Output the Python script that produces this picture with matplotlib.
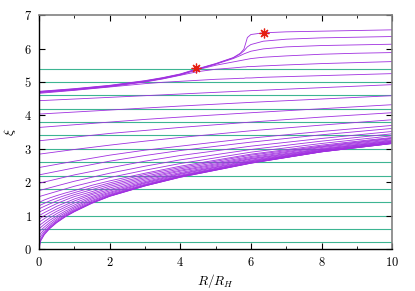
import matplotlib
matplotlib.use('Agg')
import matplotlib.pyplot as plt
from matplotlib.ticker import MultipleLocator, FuncFormatter

plt.rcParams['mathtext.fontset'] = 'cm'

# horizontal reference levels
XI_LEVELS = [0.2, 0.6, 1.0, 1.4, 1.8, 2.2, 2.6, 3.0, 3.4, 3.8, 4.2, 4.6, 5.0, 5.4]

# lower family (steep start near R=0)
R_LOW = [0, 0.05, 0.15, 0.3, 0.5, 0.75, 1, 1.5, 2, 3, 4, 6, 8, 10]
XI_LOW = [
    [0.00, 0.25, 0.43, 0.61, 0.79, 0.97, 1.12, 1.37, 1.58, 1.89, 2.15, 2.57, 2.91, 3.16],
    [0.10, 0.27, 0.45, 0.62, 0.80, 0.98, 1.12, 1.38, 1.58, 1.89, 2.15, 2.57, 2.91, 3.16],
    [0.20, 0.32, 0.48, 0.65, 0.82, 0.99, 1.14, 1.39, 1.59, 1.90, 2.16, 2.58, 2.91, 3.16],
    [0.30, 0.39, 0.53, 0.68, 0.85, 1.02, 1.16, 1.40, 1.60, 1.91, 2.17, 2.58, 2.92, 3.17],
    [0.40, 0.47, 0.59, 0.73, 0.89, 1.05, 1.19, 1.43, 1.62, 1.92, 2.18, 2.59, 2.93, 3.17],
    [0.50, 0.56, 0.66, 0.79, 0.94, 1.09, 1.23, 1.46, 1.64, 1.94, 2.19, 2.61, 2.94, 3.18],
    [0.60, 0.65, 0.74, 0.86, 0.99, 1.14, 1.27, 1.50, 1.67, 1.97, 2.21, 2.62, 2.95, 3.19],
    [0.70, 0.74, 0.82, 0.93, 1.06, 1.20, 1.32, 1.54, 1.70, 1.99, 2.24, 2.64, 2.96, 3.20],
    [0.80, 0.84, 0.91, 1.01, 1.13, 1.26, 1.38, 1.58, 1.74, 2.02, 2.26, 2.66, 2.98, 3.22],
    [0.90, 0.93, 1.00, 1.09, 1.20, 1.32, 1.44, 1.63, 1.78, 2.06, 2.29, 2.69, 2.99, 3.23],
    [1.00, 1.03, 1.09, 1.17, 1.28, 1.39, 1.50, 1.67, 1.83, 2.10, 2.33, 2.71, 3.01, 3.25],
    [1.10, 1.13, 1.18, 1.26, 1.36, 1.47, 1.57, 1.72, 1.88, 2.14, 2.36, 2.74, 3.04, 3.27],
    [1.20, 1.23, 1.28, 1.35, 1.44, 1.54, 1.63, 1.78, 1.93, 2.18, 2.40, 2.77, 3.06, 3.30],
    [1.30, 1.32, 1.37, 1.44, 1.52, 1.61, 1.69, 1.84, 1.98, 2.23, 2.44, 2.81, 3.08, 3.32],
    [1.40, 1.42, 1.47, 1.53, 1.60, 1.68, 1.75, 1.91, 2.04, 2.27, 2.48, 2.84, 3.11, 3.34],
]

# middle family
R_MID = [0, 1, 2, 3, 4, 6, 8, 10]
XI_MID = [
    [1.57, 1.88, 2.14, 2.36, 2.56, 2.90, 3.16, 3.39],
    [1.75, 2.03, 2.27, 2.48, 2.67, 2.98, 3.23, 3.45],
    [1.97, 2.22, 2.43, 2.63, 2.80, 3.08, 3.31, 3.52],
    [2.22, 2.43, 2.63, 2.80, 2.95, 3.20, 3.42, 3.61],
    [2.44, 2.63, 2.81, 2.96, 3.08, 3.32, 3.52, 3.70],
    [2.84, 2.98, 3.11, 3.23, 3.34, 3.54, 3.71, 3.87],
    [3.24, 3.35, 3.46, 3.55, 3.64, 3.80, 3.95, 4.08],
    [3.64, 3.72, 3.80, 3.88, 3.95, 4.08, 4.20, 4.32],
    [4.04, 4.10, 4.16, 4.22, 4.28, 4.39, 4.49, 4.59],
    [4.44, 4.49, 4.54, 4.59, 4.64, 4.74, 4.83, 4.92],
]

# upper bundle that splits near R/R_H ~ 4-6
R_TOP = [0, 1, 2, 3, 3.5, 4, 4.5, 5, 5.5, 5.7, 5.8, 5.85, 5.9, 6, 6.35, 7, 8, 9, 10]
XI_TOP = [
    [4.72, 4.80, 4.90, 5.04, 5.13, 5.24, 5.40, 5.55, 5.73, 5.86, 5.98, 6.15, 6.33, 6.42, 6.47, 6.50, 6.52, 6.54, 6.56],
    [4.71, 4.79, 4.89, 5.03, 5.12, 5.23, 5.39, 5.54, 5.72, 5.84, 5.93, 5.99, 6.05, 6.12, 6.22, 6.28, 6.32, 6.34, 6.36],
    [4.70, 4.78, 4.88, 5.02, 5.11, 5.22, 5.38, 5.53, 5.70, 5.79, 5.84, 5.86, 5.88, 5.92, 5.99, 6.05, 6.09, 6.11, 6.13],
    [4.69, 4.77, 4.87, 5.01, 5.10, 5.21, 5.37, 5.50, 5.60, 5.64, 5.66, 5.67, 5.68, 5.70, 5.74, 5.78, 5.83, 5.86, 5.88],
    [4.68, 4.76, 4.86, 5.00, 5.09, 5.20, 5.31, 5.38, 5.42, 5.44, 5.45, 5.45, 5.46, 5.46, 5.48, 5.51, 5.55, 5.58, 5.61],
    [4.66, 4.75, 4.85, 4.95, 4.99, 5.02, 5.05, 5.08, 5.10, 5.11, 5.11, 5.12, 5.12, 5.12, 5.14, 5.16, 5.19, 5.22, 5.25],
]

# marked points
STAR_R = [4.45, 6.37]
STAR_XI = [5.41, 6.48]

PURPLE = '#a030e0'
GREEN = '#3db592'
RED = '#e51e10'

fig = plt.figure(figsize=(4.15, 2.91), dpi=100)
ax = fig.add_axes([0.094, 0.144, 0.851, 0.804])

for lvl in XI_LEVELS:
    ax.axhline(lvl, color=GREEN, lw=0.8, zorder=1)

for xi in XI_LOW:
    ax.plot(R_LOW, xi, color=PURPLE, lw=0.6, zorder=2)
for xi in XI_MID:
    ax.plot(R_MID, xi, color=PURPLE, lw=0.6, zorder=2)
for xi in XI_TOP:
    ax.plot(R_TOP, xi, color=PURPLE, lw=0.6, zorder=2)

ax.plot(STAR_R, STAR_XI, ls='none', marker=(8, 2, 0), ms=7, mew=0.9,
        color=RED, zorder=3)

ax.set_xlim(0, 10)
ax.set_ylim(0, 7)
ax.xaxis.set_major_locator(MultipleLocator(2))
ax.xaxis.set_minor_locator(MultipleLocator(1))
ax.yaxis.set_major_locator(MultipleLocator(1))
fmt = FuncFormatter(lambda v, p: f'${v:g}$')
ax.xaxis.set_major_formatter(fmt)
ax.yaxis.set_major_formatter(fmt)
ax.tick_params(which='both', direction='in', top=True, right=True, labelsize=9)
ax.tick_params(which='major', length=4, width=0.8, pad=5)
ax.tick_params(which='minor', length=2, width=0.6)

for side in ['left', 'bottom']:
    ax.spines[side].set_color('black')
    ax.spines[side].set_linewidth(1.0)
for side in ['top', 'right']:
    ax.spines[side].set_color('#808080')
    ax.spines[side].set_linewidth(1.2)

ax.set_xlabel(r'$R/R_H$', fontsize=9.5, labelpad=2)
ax.set_ylabel(r'$\xi$', fontsize=10, labelpad=4)

fig.savefig('out.png', dpi=100)
